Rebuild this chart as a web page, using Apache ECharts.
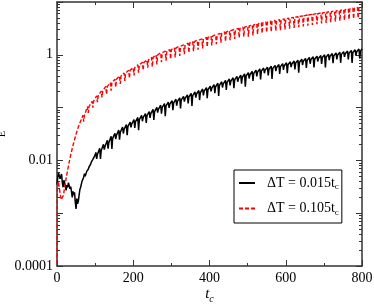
<!DOCTYPE html>
<html><head><meta charset="utf-8">
<script src="https://cdn.jsdelivr.net/npm/echarts@6/dist/echarts.min.js"></script>
<style>html,body{margin:0;padding:0;background:#fff}#c{width:374px;height:305px}</style>
</head><body><div id="c"></div>
<script>
const xMin = 0, xMax = 800, xInterval = 200;
const yMin = 0.0001, yMax = 10;
const yTickValues = [0.0001, 0.01, 1];
const yTickLabels = ['0.0001', '0.01', '1'];
const seriesNames = ['ΔT = 0.015t', 'ΔT = 0.105t'];

const blackData = [
[0,0.0035],[2,0.0048],[4,0.0058],[6,0.0063],[8,0.0045],[10,0.0050],[12,0.0055],[14,0.0038],[16,0.0031],[18,0.0042],
[20,0.0040],[22,0.0033],[24,0.0027],[26,0.0034],[28,0.0031],[30,0.0038],[32,0.0036],[34,0.0029],[36,0.0032],[38,0.0026],
[40,0.0020],[42,0.0026],[44,0.0022],[46,0.0025],[48,0.0016],[50,0.0012],[52,0.0019],[54,0.0015],[56,0.0017],[58,0.0022],
[60,0.0028],[62,0.0031],[64,0.0036],[66,0.0041],[68,0.0039],[70,0.0048],[72,0.0056],[74,0.0050],[76,0.0054],[78,0.0062],
[80,0.0058],[82,0.0068],[84,0.0075],[86,0.0070],[88,0.0084],[90,0.0093],[92,0.0088],[94,0.0105],[96,0.0112],[98,0.0102],[100,0.0126],
[102,0.0142],[104,0.0107],[106,0.0129],[112,0.0169],[114,0.0107],[116,0.0154],[122,0.0202],[124,0.0160],[126,0.0184],
[132,0.0240],[134,0.0166],[136,0.0219],[142,0.0286],[144,0.0164],[146,0.0261],[152,0.0327],[154,0.0254],[156,0.0299],
[162,0.0375],[164,0.0248],[166,0.0342],[172,0.0426],[174,0.0323],[176,0.0388],[182,0.0476],[184,0.0301],[186,0.0435],
[192,0.0533],[194,0.0424],[196,0.0486],[202,0.0596],[204,0.0412],[206,0.0543],[212,0.0650],[214,0.0374],[216,0.0593],
[222,0.0710],[224,0.0551],[226,0.0647],[232,0.0773],[234,0.0511],[236,0.0705],[242,0.0843],[244,0.0640],[246,0.0769],
[252,0.0925],[254,0.0583],[256,0.0843],[262,0.101],[264,0.0805],[266,0.0925],[272,0.111],[274,0.0769],[276,0.101],
[282,0.119],[284,0.0684],[286,0.108],[292,0.127],[294,0.0984],[296,0.116],[302,0.135],[304,0.0891],[306,0.123],
[312,0.144],[314,0.109],[316,0.131],[322,0.153],[324,0.0968],[326,0.140],[332,0.163],[334,0.130],[336,0.149],
[342,0.174],[344,0.120],[346,0.159],[352,0.186],[354,0.107],[356,0.169],[362,0.198],[364,0.154],[366,0.181],
[372,0.211],[374,0.139],[376,0.192],[382,0.225],[384,0.171],[386,0.205],[392,0.239],[394,0.151],[396,0.218],
[402,0.255],[404,0.203],[406,0.233],[412,0.272],[414,0.188],[416,0.248],[422,0.290],[424,0.167],[426,0.264],
[432,0.309],[434,0.240],[436,0.282],[442,0.329],[444,0.217],[446,0.300],[452,0.348],[454,0.264],[456,0.318],
[462,0.368],[464,0.232],[466,0.336],[472,0.389],[474,0.309],[476,0.355],[482,0.411],[484,0.284],[486,0.375],
[492,0.435],[494,0.250],[496,0.396],[502,0.459],[504,0.356],[506,0.419],[512,0.486],[514,0.321],[516,0.444],
[522,0.514],[524,0.390],[526,0.469],[532,0.541],[534,0.341],[536,0.493],[542,0.562],[544,0.447],[546,0.513],
[552,0.585],[554,0.405],[556,0.533],[562,0.607],[564,0.349],[566,0.553],[572,0.631],[574,0.490],[576,0.575],
[582,0.656],[584,0.434],[586,0.598],[592,0.681],[594,0.516],[596,0.621],[602,0.708],[604,0.447],[606,0.646],
[612,0.736],[614,0.585],[616,0.671],[622,0.764],[624,0.528],[626,0.697],[632,0.794],[634,0.457],[636,0.724],
[642,0.826],[644,0.641],[646,0.753],[652,0.857],[654,0.566],[656,0.782],[662,0.891],[664,0.676],[666,0.813],
[672,0.916],[674,0.578],[676,0.836],[682,0.942],[684,0.748],[686,0.859],[692,0.970],[694,0.671],[696,0.885],
[702,0.998],[704,0.574],[706,0.910],[712,1.026],[714,0.796],[716,0.935],[722,1.054],[724,0.697],[726,0.962],
[732,1.084],[734,0.822],[736,0.989],[742,1.117],[744,0.705],[746,1.019],[752,1.148],[754,0.912],[756,1.047],
[762,1.180],[764,0.817],[766,1.076],[772,1.213],[774,0.698],[776,1.107],[782,1.247],[784,0.968],[786,1.138],
[792,1.285],[794,0.849],[796,1.172],[800,1.30]
];

const redData = [
[0,0.00011],[1,0.0030],[3,0.0040],[5,0.0034],[8,0.0024],[11,0.0018],[14,0.0017],[17,0.0022],[20,0.0031],[24,0.0046],
[28,0.0066],[32,0.0093],[36,0.0127],[40,0.0168],[44,0.0218],[48,0.0280],[52,0.0350],[56,0.0430],[60,0.0510],[64,0.0600],
[68,0.0716],[70,0.0543],[72,0.0716],[80,0.105],[82,0.0794],[84,0.105],[92,0.132],[94,0.100],[96,0.132],
[104,0.167],[106,0.127],[108,0.167],[116,0.206],[118,0.156],[120,0.206],[128,0.252],[130,0.178],[132,0.252],
[140,0.296],[142,0.210],[144,0.296],[152,0.344],[154,0.243],[156,0.344],[164,0.397],[166,0.281],[168,0.397],
[176,0.452],[178,0.320],[180,0.452],[188,0.508],[190,0.360],[192,0.508],[200,0.573],[202,0.406],[204,0.573],
[212,0.646],[214,0.457],[216,0.646],[224,0.719],[226,0.509],[228,0.719],[236,0.802],[238,0.568],[240,0.802],
[248,0.893],[250,0.590],[252,0.893],[260,0.998],[262,0.659],[264,0.998],[272,1.096],[274,0.724],[276,1.096],
[284,1.175],[286,0.776],[288,1.175],[296,1.259],[298,0.832],[300,1.259],[308,1.349],[310,0.891],[312,1.349],
[320,1.445],[322,0.955],[324,1.445],[332,1.549],[334,1.023],[336,1.549],[344,1.660],[346,1.096],[348,1.660],
[356,1.778],[358,1.175],[360,1.778],[368,1.888],[370,1.247],[372,1.888],[380,2.005],[382,1.324],[384,2.005],
[392,2.133],[394,1.409],[396,2.133],[404,2.265],[406,1.496],[408,2.265],[416,2.404],[418,1.589],[420,2.404],
[428,2.553],[430,1.687],[432,2.553],[440,2.710],[442,1.791],[444,2.710],[452,2.864],[454,1.892],[456,2.864],
[464,3.013],[466,1.991],[468,3.013],[476,3.170],[478,2.094],[480,3.170],[488,3.334],[490,2.203],[492,3.334],
[500,3.508],[502,2.213],[504,3.508],[512,3.690],[514,2.328],[516,3.690],[524,3.882],[526,2.449],[528,3.882],
[536,4.046],[538,2.553],[540,4.046],[548,4.188],[550,2.642],[552,4.188],[560,4.325],[562,2.729],[564,4.325],
[572,4.477],[574,2.825],[576,4.477],[584,4.624],[586,2.917],[588,4.624],[596,4.786],[598,3.020],[600,4.786],
[608,4.955],[610,3.126],[612,4.955],[620,5.117],[622,3.228],[624,5.117],[632,5.297],[634,3.342],[636,5.297],
[644,5.470],[646,3.451],[648,5.470],[656,5.662],[658,3.573],[660,5.662],[668,5.834],[670,3.681],[672,5.834],
[680,6.012],[682,3.793],[684,6.012],[692,6.194],[694,3.908],[696,6.194],[704,6.383],[706,4.027],[708,6.383],
[716,6.577],[718,4.150],[720,6.577],[728,6.776],[730,4.276],[732,6.776],[740,6.966],[742,4.395],[744,6.966],
[752,7.178],[754,4.529],[756,7.178],[764,7.396],[766,4.667],[768,7.396],[776,7.621],[778,4.808],[780,7.621],
[788,7.852],[790,4.955],[792,7.852],[800,8.04]
];

const FONT = 'Liberation Serif';
const AX = '#333';
const chart = echarts.init(document.getElementById('c'), null, {renderer: 'canvas'});

function yLabel(v) {
  const i = yTickValues.findIndex(t => Math.abs(Math.log10(v) - Math.log10(t)) < 1e-6);
  return i >= 0 ? yTickLabels[i] : '';
}

const xCommon = {
  type: 'value', min: xMin, max: xMax, interval: xInterval,
  axisLine: {show: true, onZero: false, lineStyle: {color: AX, width: 1.5}},
  axisTick: {show: true, inside: true, length: 6, lineStyle: {color: AX}},
  minorTick: {show: true, splitNumber: 2, length: 3, lineStyle: {color: AX}},
  splitLine: {show: false}, minorSplitLine: {show: false}
};
const yCommon = {
  type: 'log', logBase: 10, min: yMin, max: yMax,
  axisLine: {show: true, onZero: false, lineStyle: {color: AX, width: 1.5}},
  axisTick: {show: true, inside: true, length: 6, lineStyle: {color: AX}},
  minorTick: {show: true, splitNumber: 9, length: 3, lineStyle: {color: AX}},
  splitLine: {show: false}, minorSplitLine: {show: false}
};

chart.setOption({
  animation: false,
  backgroundColor: '#fff',
  grid: {left: 57, right: 12, top: 2, bottom: 39, containLabel: false, outerBoundsMode: 'none'},
  xAxis: [
    Object.assign({}, xCommon, {
      position: 'bottom',
      axisLabel: {fontFamily: FONT, fontSize: 14, color: '#000', margin: 5},
      name: '{t|t}{c|c}', nameLocation: 'middle', nameGap: 18, nameMoveOverlap: false,
      nameTextStyle: {rich: {
        t: {fontFamily: FONT, fontStyle: 'italic', fontSize: 15, color: '#000'},
        c: {fontFamily: FONT, fontStyle: 'italic', fontSize: 10, color: '#000', padding: [10, 0, 0, 0]}
      }}
    }),
    Object.assign({}, xCommon, {position: 'top', axisLabel: {show: false}})
  ],
  yAxis: [
    Object.assign({}, yCommon, {
      position: 'left',
      axisLabel: {fontFamily: FONT, fontSize: 14, color: '#000', margin: 4, formatter: yLabel},
      name: 'E', nameLocation: 'middle', nameGap: 50, nameRotate: 90, nameMoveOverlap: false,
      nameTextStyle: {fontFamily: FONT, fontSize: 10, color: '#000'}
    }),
    Object.assign({}, yCommon, {position: 'right', axisLabel: {show: false}})
  ],
  legend: {
    orient: 'vertical', left: 234, top: 170,
    padding: [6, 3, 6, 4], itemGap: 10, itemWidth: 16, itemHeight: 14,
    borderColor: '#000', borderWidth: 1, backgroundColor: '#fff',
    itemStyle: {opacity: 0, borderWidth: 0},
    data: seriesNames,
    formatter: n => '{m|' + n + '}{s|c}',
    textStyle: {fontFamily: FONT, fontSize: 14, color: '#000', rich: {
      m: {fontFamily: FONT, fontSize: 14, color: '#000', padding: [0, 0, 0, 7]},
      s: {fontFamily: FONT, fontSize: 9, color: '#000', padding: [8, 0, 0, 0]}
    }}
  },
  series: [
    {name: seriesNames[0], type: 'line', data: blackData, xAxisIndex: 0, yAxisIndex: 0,
     showSymbol: false, symbol: 'none', lineStyle: {color: '#000', width: 1.5}, itemStyle: {color: '#000'}},
    {name: seriesNames[1], type: 'line', data: redData, xAxisIndex: 0, yAxisIndex: 0,
     showSymbol: false, symbol: 'none', lineStyle: {color: '#ff0000', width: 1.4, type: [4, 2]}, itemStyle: {color: '#ff0000'}}
  ]
});
</script></body></html>
